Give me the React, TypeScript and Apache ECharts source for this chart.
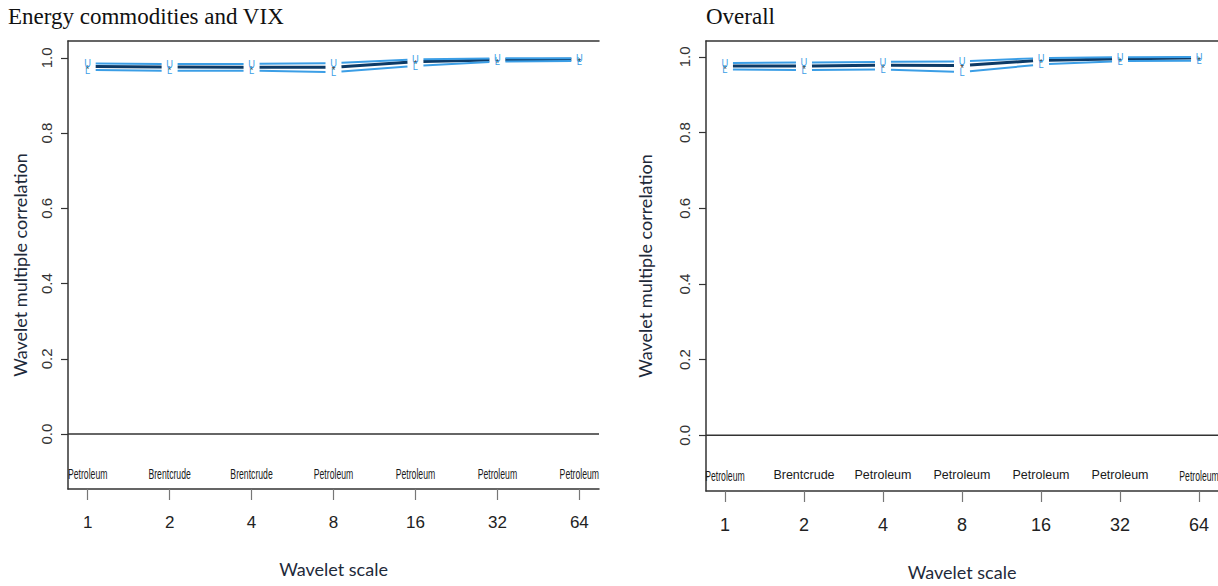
import React, { useEffect, useRef } from "react";
import * as echarts from "echarts";

// Wavelet scales shown along the x axis (positions 1..7)
const scaleLabels = ["1", "2", "4", "8", "16", "32", "64"];
const yTickValues = [0, 0.2, 0.4, 0.6, 0.8, 1.0];

// Panel 1: energy commodities and VIX
const energyEstimate = [0.977, 0.976, 0.975, 0.975, 0.99, 0.995, 0.997];
const energyLower = [0.968, 0.966, 0.966, 0.962, 0.979, 0.99, 0.992];
const energyUpper = [0.985, 0.984, 0.984, 0.986, 0.996, 0.999, 0.999];
const energyLeaders = ["Petroleum", "Brentcrude", "Brentcrude", "Petroleum", "Petroleum", "Petroleum", "Petroleum"];

// Panel 2: overall
const overallEstimate = [0.976, 0.976, 0.978, 0.977, 0.991, 0.995, 0.997];
const overallLower = [0.967, 0.965, 0.967, 0.96, 0.98, 0.989, 0.99];
const overallUpper = [0.984, 0.985, 0.987, 0.988, 0.997, 0.999, 1.0];
const overallLeaders = ["Petroleum", "Brentcrude", "Petroleum", "Petroleum", "Petroleum", "Petroleum", "Petroleum"];

const panelTitles = ["Energy commodities and VIX", "Overall"];
const yAxisTitle = "Wavelet multiple correlation";
const xAxisTitle = "Wavelet scale";

const LEADER_Y = -0.105;
const X_MIN = 0.76;
const X_MAX = 7.24;
const EST_COLOR = "#0d3a66";
const CI_COLOR = "#3b9ee6";
const AXIS_COLOR = "#333";
const TITLE_FONT = "'Liberation Serif', 'DejaVu Serif', serif";
const LABEL_FONT = "'Liberation Sans', Arial, sans-serif";
const NAME_FONT = "Lato, 'Open Sans', sans-serif";

// Lines with gaps around each point plus a character marker (like R's type = "b")
function bandSeries(values: number[], ch: string, color: string, width: number, grid: number, dy: number) {
  const gap = 8;
  return {
    type: "custom",
    xAxisIndex: grid * 2,
    yAxisIndex: grid,
    silent: true,
    data: values.map((v, i) => [i + 1, v]),
    encode: { x: 0, y: 1 },
    renderItem: (params: any, api: any) => {
      const i = params.dataIndex;
      const p = api.coord([api.value(0), api.value(1)]);
      const children: any[] = [];
      if (i < values.length - 1) {
        const q = api.coord([i + 2, values[i + 1]]);
        const dx = q[0] - p[0];
        const dyy = q[1] - p[1];
        const len = Math.hypot(dx, dyy);
        children.push({
          type: "line",
          shape: {
            x1: p[0] + (dx * gap) / len,
            y1: p[1] + (dyy * gap) / len,
            x2: q[0] - (dx * gap) / len,
            y2: q[1] - (dyy * gap) / len,
          },
          style: { stroke: color, lineWidth: width },
        });
      }
      children.push({
        type: "text",
        x: p[0],
        y: p[1] + dy,
        scaleX: 0.85,
        style: {
          text: ch,
          fill: ch === "*" ? "#333" : color,
          font: `11px ${LABEL_FONT}`,
          align: "center",
          verticalAlign: "middle",
        },
      });
      return { type: "group", children };
    },
  };
}

// Leading variable named under each scale
function leaderSeries(names: string[], grid: number, narrow: boolean[]) {
  return {
    type: "custom",
    xAxisIndex: grid * 2,
    yAxisIndex: grid,
    silent: true,
    data: names.map((_, i) => [i + 1, LEADER_Y]),
    encode: { x: 0, y: 1 },
    renderItem: (params: any, api: any) => {
      const i = params.dataIndex;
      const p = api.coord([api.value(0), api.value(1)]);
      const isNarrow = narrow[i];
      return {
        type: "text",
        x: p[0],
        y: p[1],
        scaleX: isNarrow ? 0.62 : 1,
        style: {
          text: names[i],
          fill: "#1a1a1a",
          font: isNarrow ? `14px ${LABEL_FONT}` : `12.5px ${LABEL_FONT}`,
          align: "center",
          verticalAlign: "middle",
        },
      };
    },
  };
}

function zeroLine(grid: number) {
  return {
    type: "line",
    xAxisIndex: grid * 2,
    yAxisIndex: grid,
    silent: true,
    symbol: "none",
    data: [
      [X_MIN, 0],
      [X_MAX, 0],
    ],
    lineStyle: { color: AXIS_COLOR, width: 1.5 },
  };
}

function bottomXAxis(grid: number, labelSize: number, nameGap: number) {
  return {
    type: "value",
    gridIndex: grid,
    position: "bottom",
    min: X_MIN,
    max: X_MAX,
    name: xAxisTitle,
    nameLocation: "middle",
    nameGap,
    nameTextStyle: { fontFamily: NAME_FONT, fontSize: 18, color: "#1e2a3a" },
    axisLine: { show: true, onZero: false, lineStyle: { color: AXIS_COLOR, width: 1.5 } },
    axisTick: { show: true, length: 11, customValues: [1, 2, 3, 4, 5, 6, 7], lineStyle: { color: "#777", width: 1.2 } },
    axisLabel: {
      customValues: [1, 2, 3, 4, 5, 6, 7],
      formatter: (v: number) => scaleLabels[Math.round(v) - 1] ?? "",
      margin: 25,
      fontFamily: LABEL_FONT,
      fontSize: labelSize,
      color: "#222",
    },
    splitLine: { show: false },
  };
}

function topXAxis(grid: number) {
  return {
    type: "value",
    gridIndex: grid,
    position: "top",
    min: X_MIN,
    max: X_MAX,
    axisLine: { show: true, onZero: false, lineStyle: { color: AXIS_COLOR, width: 1.5 } },
    axisTick: { show: false },
    axisLabel: { show: false },
    splitLine: { show: false },
  };
}

function leftYAxis(grid: number, min: number, max: number, nameGap: number) {
  return {
    type: "value",
    gridIndex: grid,
    min,
    max,
    name: yAxisTitle,
    nameLocation: "middle",
    nameRotate: 90,
    nameGap,
    nameTextStyle: { fontFamily: NAME_FONT, fontSize: 18, color: "#1e2a3a" },
    axisLine: { show: true, onZero: false, lineStyle: { color: AXIS_COLOR, width: 1.5 } },
    axisTick: { show: true, length: 7, customValues: yTickValues, lineStyle: { color: AXIS_COLOR, width: 1.2 } },
    axisLabel: {
      customValues: yTickValues,
      rotate: 90,
      margin: 14,
      formatter: (v: number) => v.toFixed(1),
      fontFamily: LABEL_FONT,
      fontSize: 15,
      color: "#333",
    },
    splitLine: { show: false },
  };
}

export default function App() {
  const ref = useRef<HTMLDivElement>(null);

  useEffect(() => {
    if (!ref.current) return;
    const chart = echarts.init(ref.current, undefined, { renderer: "svg" });
    chart.setOption({
      animation: false,
      backgroundColor: "#ffffff",
      title: [
        {
          text: panelTitles[0],
          left: 8,
          top: 5,
          padding: 0,
          textStyle: { fontFamily: TITLE_FONT, fontSize: 23, fontWeight: "normal", color: "#111" },
        },
        {
          text: panelTitles[1],
          left: 706,
          top: 5,
          padding: 0,
          textStyle: { fontFamily: TITLE_FONT, fontSize: 23, fontWeight: "normal", color: "#111" },
        },
      ],
      grid: [
        { left: 68, top: 41, width: 531, height: 448 },
        { left: 706, top: 41, width: 512, height: 452 },
      ],
      xAxis: [bottomXAxis(0, 17, 71), topXAxis(0), bottomXAxis(1, 18, 72), topXAxis(1)],
      yAxis: [leftYAxis(0, -0.146, 1.045, 39), leftYAxis(1, -0.147, 1.042, 52)],
      series: [
        zeroLine(0),
        bandSeries(energyEstimate, "*", EST_COLOR, 3, 0, 3),
        bandSeries(energyLower, "L", CI_COLOR, 2, 0, 0),
        bandSeries(energyUpper, "U", CI_COLOR, 2, 0, 0),
        leaderSeries(energyLeaders, 0, energyLeaders.map(() => true)),
        zeroLine(1),
        bandSeries(overallEstimate, "*", EST_COLOR, 3, 1, 3),
        bandSeries(overallLower, "L", CI_COLOR, 2, 1, 0),
        bandSeries(overallUpper, "U", CI_COLOR, 2, 1, 0),
        leaderSeries(overallLeaders, 1, overallLeaders.map((_, i) => i === 0 || i === overallLeaders.length - 1)),
      ],
    });
    return () => chart.dispose();
  }, []);

  return (
    <div
      ref={ref}
      style={{ position: "fixed", left: 0, top: 0, width: 1218, height: 586, background: "#fff" }}
    />
  );
}
